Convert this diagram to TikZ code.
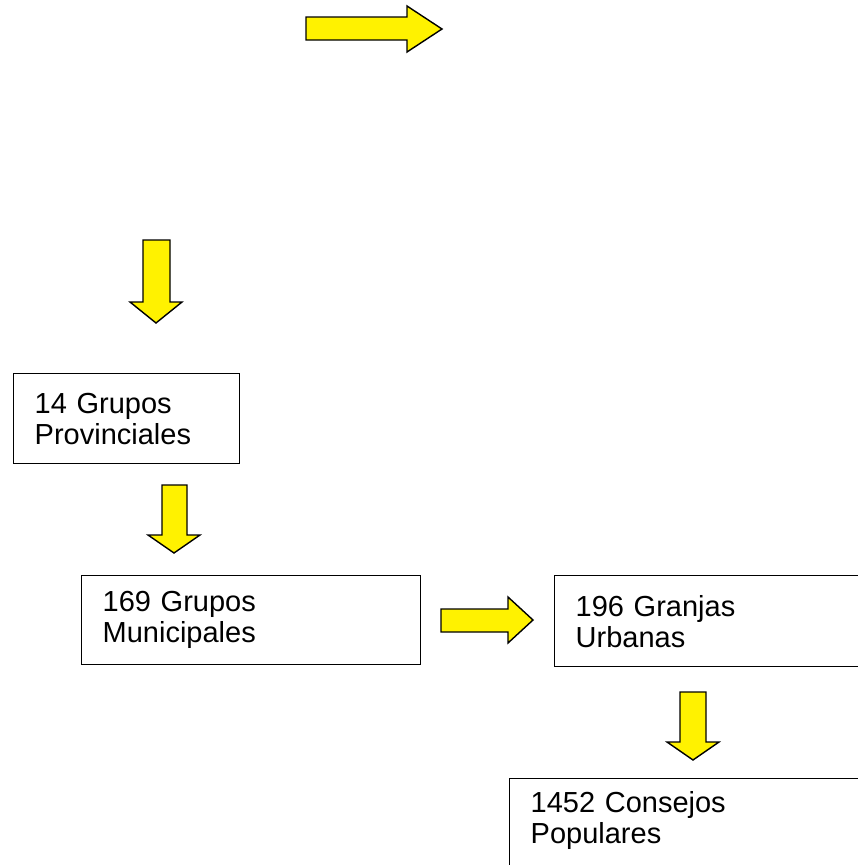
\documentclass[tikz,border=0pt]{standalone}
\usepackage{fontspec}
\setmainfont{Liberation Sans}
\usepackage{tikz}
\usetikzlibrary{calc}

\tikzset{
  caja/.style={draw, line width=1.4pt, anchor=north west, align=left,
    inner xsep=21pt, inner ysep=0pt, font=\fontsize{29}{31}\selectfont},
  flecha/.style={draw, fill=yellow, line width=1.4pt, line join=miter}
}

\begin{document}
\begin{tikzpicture}[x=1pt,y=-1pt]
\useasboundingbox (0,0) rectangle (858,865);
\clip (0,0) rectangle (858,865);

\node[caja, text width=184pt, minimum height=90pt] (prov) at (13,373) {14 Grupos\\Provinciales};
\node[caja, text width=297pt, minimum height=89pt] (mun) at (81,575) {169 Grupos\\Municipales};
\node[caja, text width=284pt, minimum height=91pt] (granjas) at (554,575) {196 Granjas\\Urbanas};
\node[caja, text width=330pt, minimum height=90pt] (consejos) at (509,778) {1452 Consejos\\Populares\rule[-12pt]{0pt}{1pt}};

% flechas
\draw[flecha] (306,17) -- (407,17) -- (407,6) -- (442,29) -- (407,52) -- (407,40) -- (306,40) -- cycle;
\draw[flecha] (143,240) -- (170,240) -- (170,302) -- (182,302) -- (156,323) -- (130,302) -- (143,302) -- cycle;
\draw[flecha] (162,485) -- (187,485) -- (187,535) -- (200,535) -- (174,553) -- (148,535) -- (162,535) -- cycle;
\draw[flecha] (441,609) -- (508,609) -- (508,597) -- (533,620) -- (508,643) -- (508,632) -- (441,632) -- cycle;
\draw[flecha] (680,692) -- (706,692) -- (706,742) -- (719,742) -- (693,760) -- (667,742) -- (680,742) -- cycle;
\end{tikzpicture}
\end{document}
